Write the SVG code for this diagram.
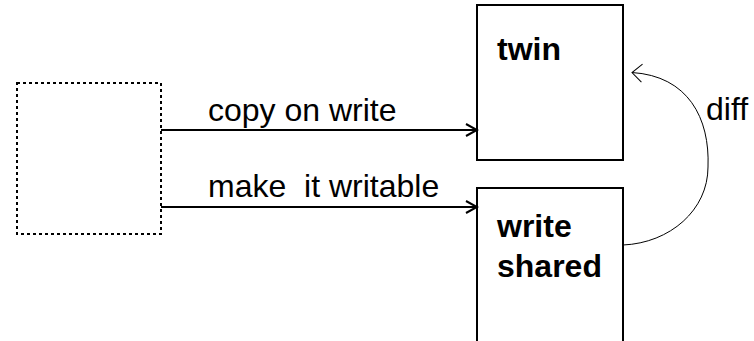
<svg xmlns="http://www.w3.org/2000/svg" width="754" height="341" viewBox="0 0 754 341">
<style>
.lbl{font-family:"Liberation Sans",Arial,sans-serif;font-size:32px;fill:#000;white-space:pre}
.bold{font-weight:bold}
.box{fill:#fff;stroke:#000;stroke-width:2}
.conn{fill:none;stroke:#000;stroke-width:2}
.thin{fill:none;stroke:#000;stroke-width:1}
</style>
<defs>
<marker id="ah" markerUnits="userSpaceOnUse" markerWidth="14" markerHeight="16" refX="12" refY="7" orient="auto" viewBox="0 0 14 14">
<path d="M1 1 L12 7 L1 13" fill="none" stroke="#000" stroke-width="2"/>
</marker>
<marker id="ah2" markerUnits="userSpaceOnUse" markerWidth="12" markerHeight="20" refX="11" refY="10" orient="auto" viewBox="0 0 12 20">
<path d="M1 1 L11 10 L1 19" fill="none" stroke="#000" stroke-width="1"/>
</marker>
</defs>
<rect width="754" height="341" fill="#fff"/>
<g id="source">
<rect x="17" y="83" width="144" height="151" fill="none" stroke="#000" stroke-width="2" stroke-dasharray="3 3"/>
</g>
<g id="twin">
<rect class="box" x="477" y="5" width="146" height="155"/>
<text class="lbl bold" x="497" y="60">twin</text>
</g>
<g id="write-shared">
<path class="box" d="M477 345 V188 H623 V345"/>
<text class="lbl bold" x="497" y="237">write</text>
<text class="lbl bold" x="497" y="277">shared</text>
</g>
<g id="connectors">
<line class="conn" x1="161" y1="130" x2="477" y2="130" marker-end="url(#ah)"/>
<line class="conn" x1="161" y1="207" x2="477" y2="207" marker-end="url(#ah)"/>
<path class="thin" d="M623 245 C670 243 708 210 708 167 C710 118 688 76 632 72.5" marker-end="url(#ah2)"/>
<text class="lbl" x="208" y="121">copy on write</text>
<text class="lbl" x="208" y="197" xml:space="preserve">make  it writable</text>
<text class="lbl" x="706" y="120">diff</text>
</g>
</svg>
